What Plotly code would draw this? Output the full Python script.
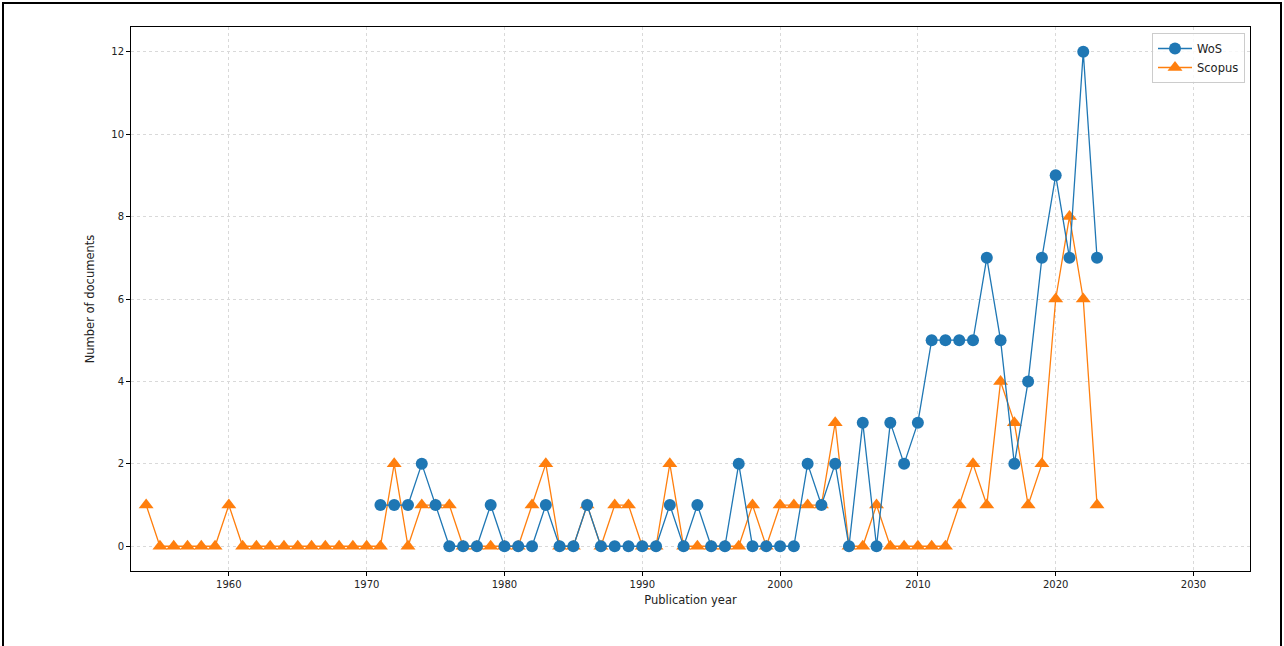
import plotly.graph_objects as go

years_wos = list(range(1971, 2024))
wos = [1, 1, 1, 2, 1, 0, 0, 0, 1, 0,
       0, 0, 1, 0, 0, 1, 0, 0, 0, 0,
       0, 1, 0, 1, 0, 0, 2, 0, 0, 0,
       0, 2, 1, 2, 0, 3, 0, 3, 2, 3,
       5, 5, 5, 5, 7, 5, 2, 4, 7, 9,
       7, 12, 7]

years_scopus = list(range(1954, 2024))
scopus = [1, 0, 0, 0, 0, 0, 1, 0, 0, 0,
          0, 0, 0, 0, 0, 0, 0, 0, 2, 0,
          1, 1, 1, 0, 0, 0, 0, 0, 1, 2,
          0, 0, 1, 0, 1, 1, 0, 0, 2, 0,
          0, 0, 0, 0, 1, 0, 1, 1, 1, 1,
          3, 0, 0, 1, 0, 0, 0, 0, 0, 1,
          2, 1, 4, 3, 1, 2, 6, 8, 6, 1]

x_ticks = [1960, 1970, 1980, 1990, 2000, 2010, 2020, 2030]
y_ticks = [0, 2, 4, 6, 8, 10, 12]

W, H = 1284, 646
L, R, T, B = 131, 1250, 27, 571

fig = go.Figure()
fig.add_trace(go.Scatter(
    x=years_scopus, y=scopus, name="Scopus", mode="lines+markers",
    line=dict(color="#ff7f0e", width=1.3),
    marker=dict(symbol="triangle-up", size=13, color="#ff7f0e"),
))
fig.add_trace(go.Scatter(
    x=years_wos, y=wos, name="WoS", mode="lines+markers",
    line=dict(color="#1f77b4", width=1.3),
    marker=dict(symbol="circle", size=12, color="#1f77b4"),
))

axis_common = dict(
    showline=True, mirror=True, linecolor="black", linewidth=1,
    ticks="outside", ticklen=4, tickcolor="black", tickwidth=1,
    showgrid=True, gridcolor="#d9d9d9", griddash="dot", gridwidth=1,
    zeroline=False,
    tickfont=dict(family="DejaVu Sans", size=10, color="#222"),
)

fig.update_layout(
    width=W, height=H,
    margin=dict(l=0, r=0, t=0, b=0),
    paper_bgcolor="white", plot_bgcolor="white",
    xaxis=dict(
        domain=[L / W, R / W], range=[1952.9, 2034.1],
        tickvals=x_ticks,
        title=dict(text="Publication year", standoff=6,
                   font=dict(family="DejaVu Sans", size=11.5, color="#222")),
        **axis_common,
    ),
    yaxis=dict(
        domain=[1 - B / H, 1 - T / H], range=[-0.6, 12.6],
        tickvals=y_ticks,
        title=dict(text="Number of documents", standoff=14,
                   font=dict(family="DejaVu Sans", size=11.5, color="#222")),
        **axis_common,
    ),
    showlegend=True,
    legend=dict(
        x=1245 / W, y=1 - 33 / H, xanchor="right", yanchor="top",
        traceorder="reversed",
        bgcolor="rgba(255,255,255,0.8)", bordercolor="#cccccc", borderwidth=1,
        font=dict(family="DejaVu Sans", size=11.5, color="#222"),
        itemwidth=34,
    ),
    shapes=[dict(
        type="rect", xref="paper", yref="paper",
        x0=3 / W, x1=1281 / W, y0=-0.02, y1=1 - 3 / H,
        line=dict(color="black", width=2), fillcolor="rgba(0,0,0,0)",
    )],
)

fig.write_html("out.html", config={"displayModeBar": False},
               post_script="document.body.style.margin='0px';document.body.style.overflow='hidden';")
